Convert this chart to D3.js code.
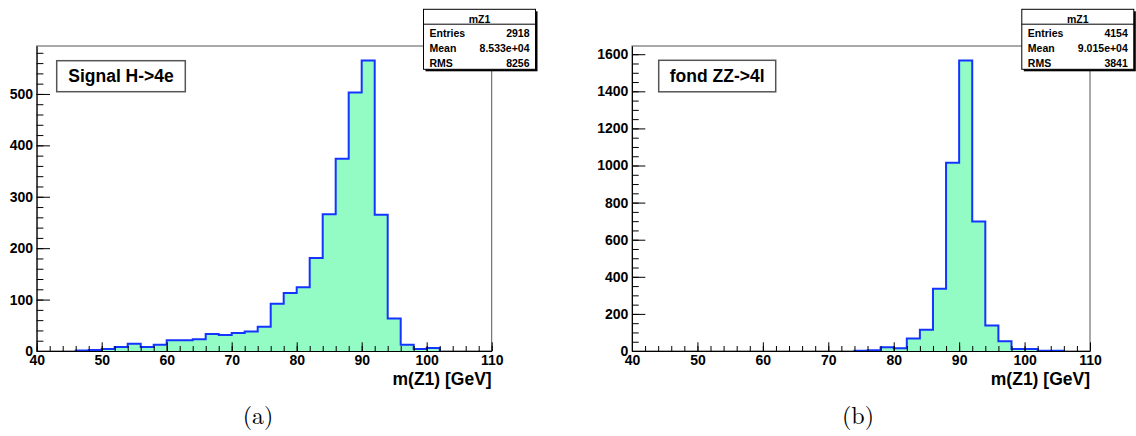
<!DOCTYPE html>
<html><head><meta charset="utf-8">
<script src="https://cdn.jsdelivr.net/npm/d3@7"></script>
<style>body{margin:0;background:#fff} svg{display:block}</style>
</head><body><svg id="c" width="1136" height="436"></svg>
<script>
// ---------- data ----------
const binWidth = 2;
const signalBinLow = [46,48,50,52,54,56,58,60,62,64,66,68,70,72,74,76,78,80,82,84,86,88,90,92,94,96,98,100];
const signalCounts = [1,2,4,8,14,8,12,21,21,23,33,31,35,38,47,92,113,124,181,266,374,503,565,265,63,12,4,6];
const bkgBinLow = [74,76,78,80,82,84,86,88,90,92,94,96,98,100,102,104];
const bkgCounts = [2,4,20,15,68,114,336,1015,1566,698,137,52,11,11,2,2];
const xRange = [40,110];
const xMajorTicks = [40,50,60,70,80,90,100,110];
const signalYTicks = [0,100,200,300,400,500];
const bkgYTicks = [0,200,400,600,800,1000,1200,1400,1600];
const statLabels = ["Entries","Mean","RMS"];
const signalStats = ["2918","8.533e+04","8256"];
const bkgStats = ["4154","9.015e+04","3841"];
const histName = "mZ1";
const panelLabels = ["Signal H->4e","fond ZZ->4l"];
const xTitle = "m(Z1) [GeV]";
const captions = ["(a)","(b)"];

// ---------- layout ----------
const svg = d3.select("#c");
const TOP = 46, BOTTOM = 351;
const FONT = "'Liberation Sans', Arial, Helvetica, sans-serif";
const panels = [
  {left:36.7, right:491.7, low:signalBinLow, counts:signalCounts, yTicks:signalYTicks, yMinor:20,
   stats:signalStats, label:panelLabels[0], legend:{x:56.7,y:60.7,w:128.6,h:31}, caption:captions[0], capX:258},
  {left:632, right:1090, low:bkgBinLow, counts:bkgCounts, yTicks:bkgYTicks, yMinor:50,
   stats:bkgStats, label:panelLabels[1], legend:{x:658.7,y:60.3,w:117,h:31.5}, caption:captions[1], capX:858}
];

panels.forEach(p => {
  const g = svg.append("g");
  const x = d3.scaleLinear().domain(xRange).range([p.left, p.right]);
  const ymax = d3.max(p.counts) * 1.05;
  const y = d3.scaleLinear().domain([0, ymax]).range([BOTTOM, TOP]);

  // frame
  g.append("rect").attr("x", p.left).attr("y", TOP).attr("width", p.right - p.left).attr("height", BOTTOM - TOP)
    .attr("fill", "none").attr("stroke", "#555").attr("stroke-width", 1);

  // histogram
  const pts = p.low.map((l, i) => [l, p.counts[i]]);
  const last = p.low[p.low.length - 1] + binWidth;
  pts.push([last, p.counts[p.counts.length - 1]]);
  const area = d3.area().curve(d3.curveStepAfter).x(d => x(d[0])).y0(y(0)).y1(d => y(d[1]));
  g.append("path").datum(pts).attr("d", area).attr("fill", "#93fcc4");
  const linePts = [[p.low[0], 0]].concat(pts, [[last, 0]]);
  const line = d3.line().curve(d3.curveStepAfter).x(d => x(d[0])).y(d => y(d[1]));
  g.append("path").datum(linePts).attr("d", line).attr("fill", "none")
    .attr("stroke", "#1434ff").attr("stroke-width", 2).attr("stroke-linejoin", "miter");

  // x axis
  const xMinor = d3.range(xRange[0], xRange[1] + 0.001, 2);
  g.append("g").attr("transform", `translate(0,${BOTTOM})`)
    .call(d3.axisBottom(x).tickValues(xMinor).tickSize(-5).tickFormat(() => "").tickSizeOuter(0))
    .call(s => s.select(".domain").remove());
  const xa = g.append("g").attr("transform", `translate(0,${BOTTOM})`)
    .call(d3.axisBottom(x).tickValues(xMajorTicks).tickSize(-8.7).tickPadding(4.5).tickSizeOuter(0));
  xa.select(".domain").attr("stroke", "#000");
  xa.selectAll("text").attr("font-family", FONT).attr("font-weight", "bold").attr("font-size", "14px").attr("fill", "#000");

  // y axis
  const yMinorTicks = d3.range(0, ymax, p.yMinor);
  g.append("g").attr("transform", `translate(${p.left},0)`)
    .call(d3.axisLeft(y).tickValues(yMinorTicks).tickSize(-6.7).tickFormat(() => "").tickSizeOuter(0))
    .call(s => s.select(".domain").remove());
  const ya = g.append("g").attr("transform", `translate(${p.left},0)`)
    .call(d3.axisLeft(y).tickValues(p.yTicks).tickSize(-13.3).tickPadding(3.6).tickSizeOuter(0).tickFormat(d3.format("d")));
  ya.select(".domain").attr("stroke", "#000");
  ya.selectAll("text").attr("font-family", FONT).attr("font-weight", "bold").attr("font-size", "14px").attr("fill", "#000");

  // axis title
  g.append("text").attr("x", p.right).attr("y", 385).attr("text-anchor", "end")
    .attr("font-family", FONT).attr("font-weight", "bold").attr("font-size", "17.5px").text(xTitle);

  // legend label box
  const L = p.legend;
  g.append("rect").attr("x", L.x).attr("y", L.y).attr("width", L.w).attr("height", L.h)
    .attr("fill", "#fff").attr("stroke", "#555").attr("stroke-width", 1.5);
  g.append("text").attr("x", L.x + L.w / 2).attr("y", 81.7).attr("text-anchor", "middle")
    .attr("font-family", FONT).attr("font-weight", "bold").attr("font-size", "17.5px").text(p.label);

  // stats box
  const sx = p.right - 68.2, sy = 9.3, sw = 112, sh = 60;
  g.append("rect").attr("x", sx + 2).attr("y", sy + 2).attr("width", sw).attr("height", sh).attr("fill", "#000");
  g.append("rect").attr("x", sx).attr("y", sy).attr("width", sw).attr("height", sh)
    .attr("fill", "#fff").attr("stroke", "#000").attr("stroke-width", 1);
  g.append("line").attr("x1", sx).attr("x2", sx + sw).attr("y1", 24.2).attr("y2", 24.2).attr("stroke", "#000");
  g.append("text").attr("x", sx + sw / 2).attr("y", 22.6).attr("text-anchor", "middle")
    .attr("font-family", FONT).attr("font-weight", "bold").attr("font-size", "10.5px").text(histName);
  const rowY = [36.7, 52.4, 67];
  statLabels.forEach((lab, i) => {
    g.append("text").attr("x", sx + 6).attr("y", rowY[i])
      .attr("font-family", FONT).attr("font-weight", "bold").attr("font-size", "10.5px").text(lab);
    g.append("text").attr("x", sx + sw - 6).attr("y", rowY[i]).attr("text-anchor", "end")
      .attr("font-family", FONT).attr("font-weight", "bold").attr("font-size", "10.5px").text(p.stats[i]);
  });

  // caption
  g.append("text").attr("x", p.capX).attr("y", 424).attr("text-anchor", "middle")
    .attr("font-family", "'Latin Modern Roman','Liberation Serif','DejaVu Serif',serif").attr("font-size", "24px").text(p.caption);
});
</script>
</body></html>
